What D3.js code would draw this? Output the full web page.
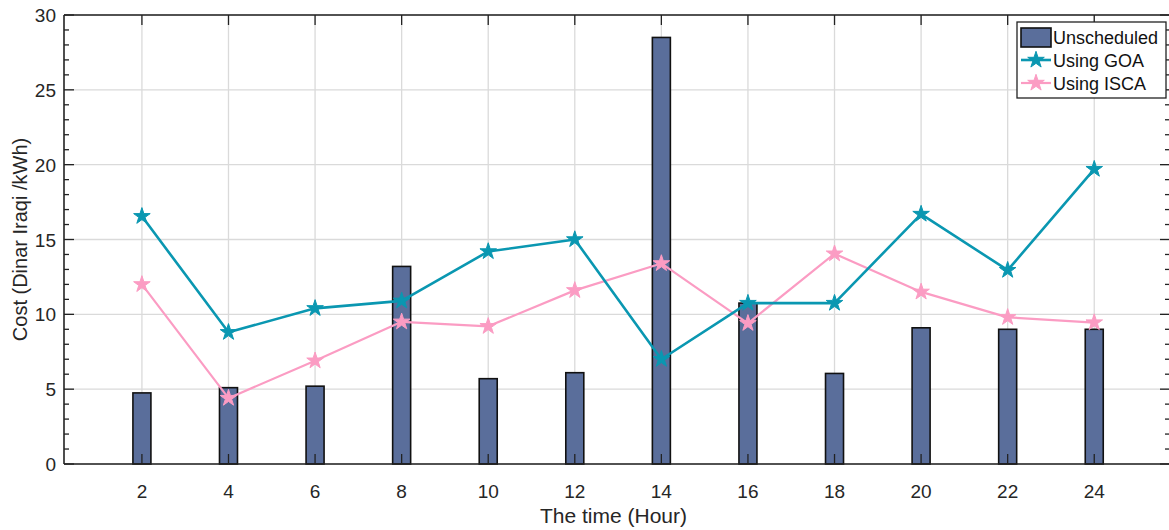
<!DOCTYPE html>
<html><head><meta charset="utf-8">
<script src="https://cdn.jsdelivr.net/npm/d3@7"></script>
<style>body{margin:0;background:#fff;} svg{display:block;font-family:"Liberation Sans",Arial,sans-serif;}</style>
</head><body><svg id="c" width="1169" height="530"></svg>
<script>
const hours = [2,4,6,8,10,12,14,16,18,20,22,24];
const unscheduled = [4.75,5.1,5.2,13.2,5.7,6.1,28.5,10.75,6.05,9.1,9.0,9.0];
const goa = [16.55,8.8,10.4,10.9,14.2,15.0,7.0,10.75,10.75,16.7,12.95,19.7];
const isca = [12.0,4.4,6.9,9.5,9.2,11.6,13.4,9.4,14.05,11.5,9.8,9.45];
const yTicks = [0,5,10,15,20,25,30];
const seriesNames = ["Unscheduled","Using GOA","Using ISCA"];

const svg = d3.select("#c");
const L=64, R=1170, T=15, B=464;
const x = d3.scaleLinear().domain([0.2,25.75]).range([L,R]);
const y = d3.scaleLinear().domain([0,30]).range([B,T]);
const gridC="#dadada", barC="#5a6e9b", goaC="#0a97b1", iscaC="#fb9cc3";

// grid
const g = svg.append("g");
g.selectAll(".gx").data(hours).join("line").attr("x1",d=>x(d)).attr("x2",d=>x(d)).attr("y1",T).attr("y2",B).attr("stroke",gridC).attr("stroke-width",1.3);
g.selectAll(".gy").data(yTicks).join("line").attr("x1",L).attr("x2",R).attr("y1",d=>y(d)).attr("y2",d=>y(d)).attr("stroke",gridC).attr("stroke-width",1.3);

// bars
const bw=18;
svg.append("g").selectAll("rect").data(hours).join("rect")
  .attr("x",(d)=>x(d)-bw/2).attr("width",bw)
  .attr("y",(d,i)=>y(unscheduled[i])).attr("height",(d,i)=>B-y(unscheduled[i]))
  .attr("fill",barC).attr("stroke","#111").attr("stroke-width",1.6);

// lines
const star = d3.symbol().type(d3.symbolStar).size(85);
function series(vals,color,w){
  const line=d3.line().x((d,i)=>x(hours[i])).y(d=>y(d));
  svg.append("path").datum(vals).attr("d",line).attr("fill","none").attr("stroke",color).attr("stroke-width",w).attr("stroke-linejoin","round");
  svg.append("g").selectAll("path").data(vals).join("path").attr("d",star)
    .attr("transform",(d,i)=>`translate(${x(hours[i])},${y(d)})`).attr("fill",color).attr("stroke",color).attr("stroke-width",1);
}
series(isca,iscaC,2.2);
series(goa,goaC,2.6);

// axes (MATLAB-like, ticks inward)
const ax=svg.append("g").attr("stroke","#222");
ax.append("line").attr("x1",L).attr("x2",R).attr("y1",B).attr("y2",B).attr("stroke-width",1.6);
ax.append("line").attr("x1",L).attr("x2",R).attr("y1",T).attr("y2",T).attr("stroke-width",1.6);
ax.append("line").attr("x1",L).attr("x2",L).attr("y1",T).attr("y2",B).attr("stroke-width",1.6);
ax.append("line").attr("x1",R).attr("x2",R).attr("y1",T).attr("y2",B).attr("stroke-width",1.6);
const minor=d3.range(0,31,1);
minor.forEach(v=>{
  const len = v%5===0?10:5;
  ax.append("line").attr("x1",L).attr("x2",L+len).attr("y1",y(v)).attr("y2",y(v)).attr("stroke-width",1.3);
  ax.append("line").attr("x1",R).attr("x2",R-len).attr("y1",y(v)).attr("y2",y(v)).attr("stroke-width",1.3);
});
hours.forEach(h=>{
  ax.append("line").attr("x1",x(h)).attr("x2",x(h)).attr("y1",B).attr("y2",B-10).attr("stroke-width",1.3);
  ax.append("line").attr("x1",x(h)).attr("x2",x(h)).attr("y1",T).attr("y2",T+10).attr("stroke-width",1.3);
});

// tick labels
svg.append("g").selectAll("text").data(hours).join("text").attr("x",d=>x(d)).attr("y",B+34)
  .attr("text-anchor","middle").attr("font-size",19).attr("fill","#262626").text(d=>d);
svg.append("g").selectAll("text").data(yTicks).join("text").attr("x",L-8).attr("y",d=>y(d)+7)
  .attr("text-anchor","end").attr("font-size",19).attr("fill","#262626").text(d=>d);

// axis labels
svg.append("text").attr("x",(L+1163)/2).attr("y",523).attr("text-anchor","middle").attr("font-size",21).attr("fill","#262626").text("The time (Hour)");
svg.append("text").attr("transform",`translate(27,${(T+B)/2}) rotate(-90)`).attr("text-anchor","middle").attr("font-size",20).attr("fill","#262626").text("Cost (Dinar Iraqi /kWh)");

// legend
const lg=svg.append("g");
lg.append("rect").attr("x",1017).attr("y",22).attr("width",149).attr("height",76).attr("fill","#fff").attr("stroke","#222").attr("stroke-width",1.3);
lg.append("rect").attr("x",1021).attr("y",28).attr("width",30).attr("height",19).attr("fill",barC).attr("stroke","#111").attr("stroke-width",1.6);
[[goaC,2.6,60],[iscaC,2.2,83]].forEach(([c,w,yy])=>{
  lg.append("line").attr("x1",1021).attr("x2",1051).attr("y1",yy).attr("y2",yy).attr("stroke",c).attr("stroke-width",w);
  lg.append("path").attr("d",star).attr("transform",`translate(1036,${yy})`).attr("fill",c).attr("stroke",c);
});
lg.selectAll("text").data(seriesNames).join("text").attr("x",1053).attr("y",(d,i)=>[44,67,90][i])
  .attr("font-size",18).attr("fill","#111").text(d=>d);
</script></body></html>
